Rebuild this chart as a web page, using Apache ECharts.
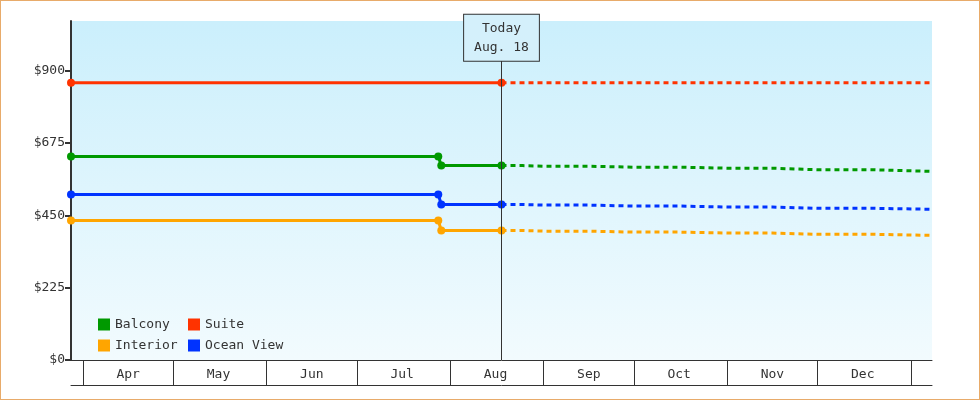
<!DOCTYPE html>
<html><head><meta charset="utf-8">
<script src="https://cdn.jsdelivr.net/npm/echarts@6/dist/echarts.min.js"></script>
<style>html,body{margin:0;padding:0;background:#fff}#c{width:978px;height:398px;border:1px solid #e8ab6a}</style>
</head><body><div id="c"></div>
<script>
const D=(m,d)=>Date.UTC(2024,m-1,d);
const monthNames=['Apr','May','Jun','Jul','Aug','Sep','Oct','Nov','Dec'];
const monthStarts=[D(4,1),D(5,1),D(6,1),D(7,1),D(8,1),D(9,1),D(10,1),D(11,1),D(12,1),D(13,1)];
const monthMids=[D(4,16),D(5,16),D(6,16),D(7,16),D(8,16),D(9,16),D(10,16),D(11,16),D(12,16)];
const xMin=D(3,28), xMax=D(13,8), today=D(8,18), change1=D(7,28), change2=D(7,29);
const yTicks=[0,225,450,675,900];
// past prices: [start, before change, after change, today]
const suitePast=[863,863];
const balconyPast=[633,633,605,605];
const oceanPast=[515,515,484,484];
const interiorPast=[434,434,403,403];
// forecast: Aug18, Sep1, Oct1, Nov1, Dec1, Jan8
const forecastDates=[D(8,18),D(9,1),D(10,1),D(11,1),D(12,1),D(13,8)];
const suiteF=[863,863,863,863,863,863];
const balconyF=[605,603,600,597,592,587];
const oceanF=[484,482,479,476,472,469];
const interiorF=[403,401,398,395,391,388];
const colors={Balcony:'#009900',Suite:'#ff3300',Interior:'#ffa500','Ocean View':'#0033ff'};

function past(vals){const xs=vals.length===2?[xMin,today]:[xMin,change1,change2,today];return xs.map((x,i)=>[x,vals[i]]);}
function mk(name,pv,fv){
  return [{name,type:'line',data:past(pv),color:colors[name],symbol:'circle',symbolSize:8,lineStyle:{width:3},z:3},
   {name,type:'line',data:forecastDates.map((x,i)=>[x,fv[i]]),color:colors[name],symbol:'none',step:'middle',lineStyle:{width:3,type:[5,4]},z:2}];
}
const series=[...mk('Suite',suitePast,suiteF),...mk('Balcony',balconyPast,balconyF),...mk('Ocean View',oceanPast,oceanF),...mk('Interior',interiorPast,interiorF)];
series[0].markLine={silent:true,symbol:'none',lineStyle:{color:'#333',width:1,type:'solid'},
  label:{show:true,position:'end',formatter:'Today\nAug. 18',fontFamily:'DejaVu Sans Mono',fontSize:13,color:'#333',backgroundColor:'#d4f0fb',borderColor:'#333',borderWidth:1,padding:[4,10],lineHeight:19,distance:0},
  data:[[{coord:[today,0]},{coord:[today,931]}]]};
const font={fontFamily:'DejaVu Sans Mono',fontSize:13,color:'#333'};
const chart=echarts.init(document.getElementById('c'));
chart.setOption({
  animation:false,
  grid:{left:70,right:47,top:20,bottom:39,show:true,borderWidth:0,
    backgroundColor:{type:'linear',x:0,y:0,x2:0,y2:1,colorStops:[{offset:0,color:'#cbeffc'},{offset:1,color:'#f2fbfe'}]}},
  legend:[{data:['Balcony','Interior'],orient:'vertical',left:92,top:312,itemWidth:12,itemHeight:12,itemGap:8,icon:'rect',textStyle:font},
          {data:['Suite','Ocean View'],orient:'vertical',left:182,top:312,itemWidth:12,itemHeight:12,itemGap:8,icon:'rect',textStyle:font}],
  xAxis:[{type:'value',min:xMin,max:xMax,splitLine:{show:false},
    axisLine:{show:true,lineStyle:{color:'#333',width:1}},
    axisTick:{show:true,customValues:monthStarts,length:25,lineStyle:{color:'#333'}},
    axisLabel:{customValues:monthMids,margin:8,...font,formatter:v=>monthNames[new Date(v).getUTCMonth()-3]}},
   {type:'value',min:xMin,max:xMax,position:'bottom',offset:25,axisLine:{show:true,lineStyle:{color:'#333'}},axisTick:{show:false},axisLabel:{show:false},splitLine:{show:false}}],
  yAxis:{type:'value',min:0,max:1055,splitLine:{show:false},
    axisLine:{show:true,lineStyle:{color:'#333',width:2}},
    axisTick:{show:true,customValues:yTicks,length:6,lineStyle:{color:'#333',width:2}},
    axisLabel:{customValues:yTicks,margin:6,...font,formatter:v=>'$'+v}},
  series
});
</script></body></html>
